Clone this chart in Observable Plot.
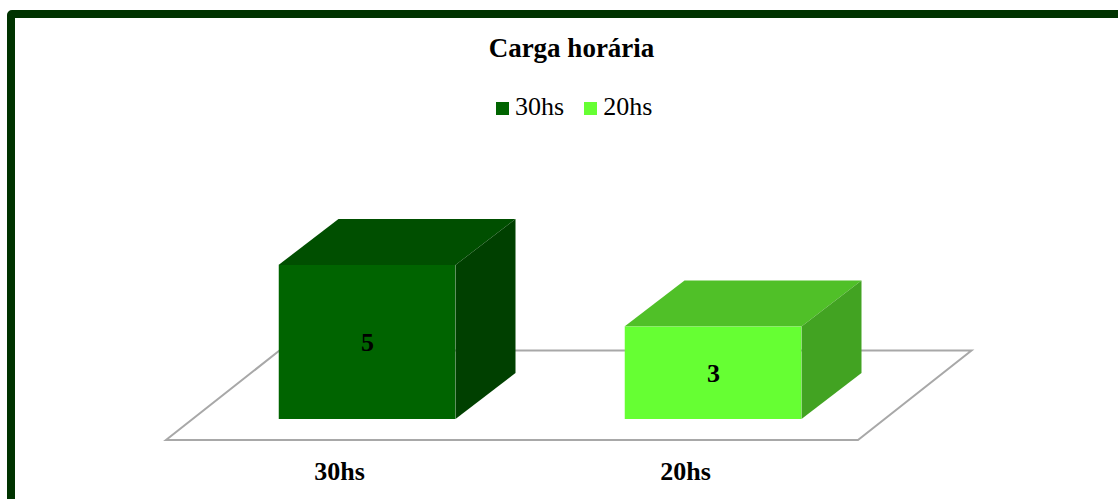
<!DOCTYPE html>
<html>
<head>
<meta charset="utf-8">
<script src="https://cdn.jsdelivr.net/npm/d3@7"></script>
<script src="https://cdn.jsdelivr.net/npm/@observablehq/plot@0.6"></script>
<style>
  html, body { margin: 0; padding: 0; background: #fff; overflow: hidden; width: 1118px; height: 499px; }
  #frame { position: absolute; left: 7px; top: 10px; width: 1300px; height: 700px; border: 8px solid #003300; border-radius: 5px; }
  #title { position: absolute; left: 0; width: 1143px; top: 35px; text-align: center; font: bold 27px "Liberation Serif", "Times New Roman", serif; line-height: 27px; color: #000; }
  #legend { position: absolute; left: 496px; top: 94px; display: flex; align-items: center; font: 26px "Liberation Serif", "Times New Roman", serif; line-height: 26px; color: #000; }
  #legend .item { display: flex; align-items: center; margin-right: 20px; }
  #legend .sw { width: 13px; height: 13px; margin-top: 2px; margin-right: 6px; }
  #chart { position: absolute; left: 0; top: 0; }
</style>
</head>
<body>
<div id="frame"></div>
<div id="title"></div>
<div id="legend"></div>
<div id="chart"></div>
<script>
// ---- data ----
const titleText = "Carga horária";
const categories = ["30hs", "20hs"];
const values = [5, 3];
const legendLabels = ["30hs", "20hs"];
const frontColors = ["#006400", "#66ff33"];
const topColors = ["#004f00", "#50c028"];
const sideColors = ["#004000", "#42a322"];

const data = categories.map((c, i) => ({cat: c, value: values[i], front: frontColors[i], top: topColors[i], side: sideColors[i]}));

// ---- 3D styling (pixel offsets) ----
const floorDepth = [113.5, -89.5];
const frontOffset = [28, -21];
const barDepth = [60, -46];
const barWidth = 177;

// title & legend
document.getElementById("title").textContent = titleText;
const legend = document.getElementById("legend");
legendLabels.forEach((l, i) => {
  const item = document.createElement("span");
  item.className = "item";
  const sw = document.createElement("span");
  sw.className = "sw";
  sw.style.background = frontColors[i];
  item.appendChild(sw);
  item.appendChild(document.createTextNode(l));
  legend.appendChild(item);
});

function bandInfo(x) {
  const step = categories.length > 1 ? x(categories[1]) - x(categories[0]) : 0;
  const bw = typeof x.bandwidth === "function" ? x.bandwidth() : step;
  return bw;
}

function floorMark(index, scales) {
  const {x, y} = scales;
  const bw = bandInfo(x);
  const x0 = x(categories[0]);
  const x1 = x(categories[categories.length - 1]) + bw;
  const y0 = y(0);
  const pts = [[x0, y0], [x1, y0], [x1 + floorDepth[0], y0 + floorDepth[1]], [x0 + floorDepth[0], y0 + floorDepth[1]]];
  const g = d3.create("svg:g");
  g.append("polygon")
    .attr("points", pts.map(p => p.join(",")).join(" "))
    .attr("fill", "#fff")
    .attr("stroke", "#a8a8a8")
    .attr("stroke-width", 2);
  return g.node();
}

function boxSides(index, scales) {
  const {x, y} = scales;
  const bw = bandInfo(x);
  const g = d3.create("svg:g");
  data.forEach(d => {
    const cx = x(d.cat) + bw / 2 + frontOffset[0];
    const L = cx - barWidth / 2, R = cx + barWidth / 2;
    const T = y(d.value) + frontOffset[1], B = y(0) + frontOffset[1];
    const top = [[L, T], [R, T], [R + barDepth[0], T + barDepth[1]], [L + barDepth[0], T + barDepth[1]]];
    const side = [[R, T], [R + barDepth[0], T + barDepth[1]], [R + barDepth[0], B + barDepth[1]], [R, B]];
    g.append("polygon").attr("points", top.map(p => p.join(",")).join(" ")).attr("fill", d.top);
    g.append("polygon").attr("points", side.map(p => p.join(",")).join(" ")).attr("fill", d.side);
  });
  return g.node();
}

const chart = Plot.plot({
  width: 1118,
  height: 499,
  marginLeft: 165,
  marginRight: 260,
  marginTop: 286,
  marginBottom: 59,
  style: {background: "transparent", fontFamily: "'Liberation Serif', 'Times New Roman', serif", fontSize: "26px", fontWeight: "bold", color: "#000"},
  x: {type: "band", domain: categories, padding: 0, label: null, axis: null},
  y: {domain: [0, 5], axis: null, nice: false},
  color: {type: "identity"},
  marks: [
    floorMark,
    boxSides,
    Plot.barY(data, {x: "cat", y: "value", fill: "front", insetLeft: (346.5 - barWidth) / 2, insetRight: (346.5 - barWidth) / 2, dx: frontOffset[0], dy: frontOffset[1]}),
    Plot.text(data, {x: "cat", y: d => d.value / 2, text: d => String(d.value), dx: frontOffset[0], dy: frontOffset[1], fontSize: 26, fontWeight: "bold", fill: "#000"}),
    Plot.axisX({tickSize: 0, tickPadding: 21, fontSize: 26, fontWeight: "bold", label: null})
  ]
});
document.getElementById("chart").appendChild(chart);
</script>
</body>
</html>
